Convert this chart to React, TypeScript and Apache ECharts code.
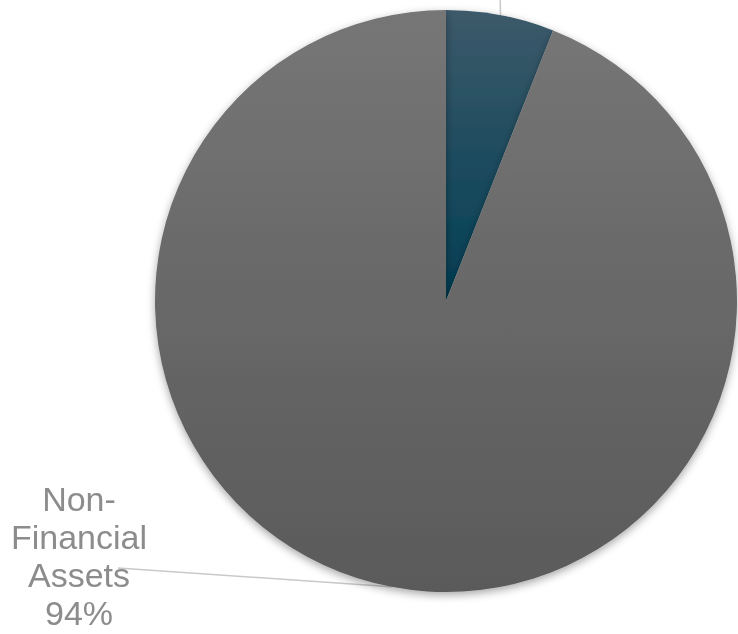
import React, { useEffect, useRef } from "react";
import * as echarts from "echarts";

const categories = ["Financial Assets", "Non-Financial Assets"];
const values = [6, 94];
const labelTexts = ["Financial\nAssets\n6%", "Non-\nFinancial\nAssets\n94%"];

export default function App() {
  const ref = useRef<HTMLDivElement>(null);
  useEffect(() => {
    if (!ref.current) return;
    const chart = echarts.init(ref.current, undefined, { renderer: "svg" });
    const grayGrad = new echarts.graphic.LinearGradient(0, 0, 0, 1, [
      { offset: 0, color: "#767676" },
      { offset: 1, color: "#5a5a5a" },
    ]);
    const tealGrad = new echarts.graphic.LinearGradient(0, 0, 0, 1, [
      { offset: 0, color: "#3d5a6a" },
      { offset: 1, color: "#003e54" },
    ]);
    chart.setOption({
      animation: false,
      series: [
        {
          type: "pie",
          center: [446, 301],
          radius: 291,
          startAngle: 90,
          clockwise: true,
          data: categories.map((name, i) => ({
            name,
            value: values[i],
            itemStyle: { color: i === 0 ? tealGrad : grayGrad },
          })),
          itemStyle: {
            borderWidth: 0,
            shadowBlur: 8,
            shadowOffsetY: 3,
            shadowColor: "rgba(0,0,0,0.35)",
          },
          label: {
            show: true,
            formatter: (p: any) => labelTexts[p.dataIndex],
            color: "#8c8c8c",
            fontSize: 34,
            lineHeight: 38,
            fontFamily: "Liberation Sans, Arial, sans-serif",
            align: "center",
          },
          labelLine: {
            show: true,
            lineStyle: { color: "#c9c9c9", width: 1.5 },
          },
          labelLayout: (params: any) => {
            const start = params.labelLinePoints ? params.labelLinePoints[0] : null;
            if (params.dataIndex === 0) {
              return {
                x: 500,
                y: -120,
                align: "center",
                verticalAlign: "middle",
                labelLinePoints: start ? [start, [500, -10]] : undefined,
              };
            }
            return {
              x: 79,
              y: 556,
              align: "center",
              verticalAlign: "middle",
              labelLinePoints: start ? [start, [118, 568]] : undefined,
            };
          },
        },
      ],
    });
    return () => chart.dispose();
  }, []);
  return (
    <div
      ref={ref}
      style={{ position: "fixed", left: 0, top: 0, width: 738, height: 634 }}
    />
  );
}
